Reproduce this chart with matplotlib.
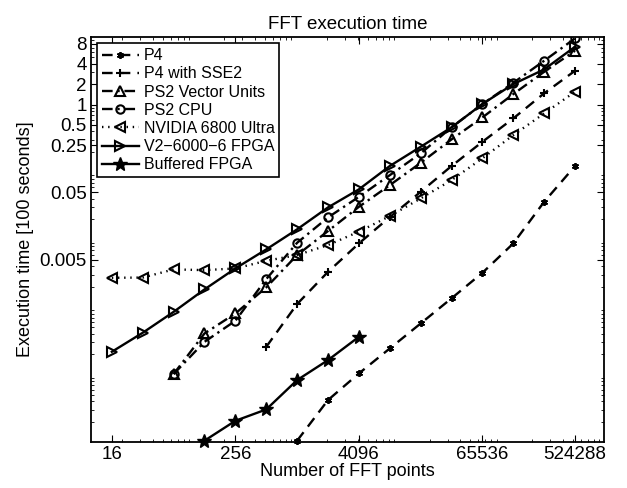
import numpy as np
import matplotlib
matplotlib.use("Agg")
import matplotlib.pyplot as plt
from matplotlib.ticker import FixedLocator, FixedFormatter, LogLocator, NullFormatter

plt.rcParams['font.family'] = ['Liberation Sans', 'DejaVu Sans']

# FFT sizes (powers of two)
p4_n = [2**k for k in range(10, 20)]
p4_t = [1.05e-5, 4.2e-5, 1.04e-4, 2.44e-4, 5.72e-4, 1.35e-3, 3.22e-3, 8.77e-3, 0.0363, 0.123]

sse2_n = [2**k for k in range(9, 20)]
sse2_t = [2.58e-4, 1.11e-3, 3.33e-3, 8.77e-3, 0.0215, 0.051, 0.123, 0.281, 0.624, 1.47, 3.17]

ps2vu_n = [2**k for k in range(6, 20)]
ps2vu_t = [1.02e-4, 4.07e-4, 8.05e-4, 1.96e-3, 5.9e-3, 0.0134, 0.0306, 0.064, 0.137,
           0.305, 0.645, 1.43, 3.06, 6.27]

ps2cpu_n = [2**k for k in range(6, 20)]
ps2cpu_t = [1.02e-4, 3.06e-4, 6.27e-4, 2.6e-3, 8.97e-3, 0.0213, 0.043, 0.090, 0.189,
            0.46, 1.02, 2.1, 4.46, 9.56]

nv_n = [2**k for k in range(4, 20)]
nv_t = [2.72e-3, 2.74e-3, 3.62e-3, 3.53e-3, 3.74e-3, 4.85e-3, 5.9e-3, 8.3e-3, 0.0131,
        0.0223, 0.0407, 0.076, 0.160, 0.353, 0.74, 1.55]

v2_n = [2**k for k in range(4, 20)]
v2_t = [2.18e-4, 4.17e-4, 8.5e-4, 1.83e-3, 3.74e-3, 7.16e-3, 0.0142, 0.030, 0.0555,
        0.123, 0.237, 0.46, 1.02, 2.01, 3.32, 7.2]

buf_n = [2**k for k in range(7, 13)]
buf_t = [1.05e-5, 2.07e-5, 3.05e-5, 8.3e-5, 1.64e-4, 3.63e-4]

xticks = [16, 256, 4096, 65536, 524288]
yticks = [0.005, 0.05, 0.25, 0.5, 1, 2, 4, 8]
ytick_labels = ['0.005', '0.05', '0.25', '0.5', '1', '2', '4', '8']

fig = plt.figure(figsize=(6.27, 4.88), dpi=100)
ax = fig.add_axes([0.145, 0.094, 0.818, 0.830])

lw = 1.7
dash = (4.5, 3.0)
dashdot = (4.5, 2.0, 1.0, 2.0)
dot = (0.6, 2.0)
asterisk = (6, 2, 0)
ax.plot(p4_n, p4_t, dashes=dash, color='k', lw=lw, marker=asterisk, ms=5,
        mew=1.3, label='P4', clip_on=False)
ax.plot(sse2_n, sse2_t, dashes=dash, color='k', lw=lw, marker='+', ms=6,
        mew=1.5, label='P4 with SSE2')
ax.plot(ps2vu_n, ps2vu_t, dashes=dashdot, color='k', lw=lw, marker='^', ms=7,
        mfc='none', mew=1.5, label='PS2 Vector Units')
ax.plot(ps2cpu_n, ps2cpu_t, dashes=dashdot, color='k', lw=lw, marker='o', ms=6,
        mfc='none', mew=1.5, label='PS2 CPU')
ax.plot(nv_n, nv_t, dashes=dot, color='k', lw=lw, marker='<', ms=7,
        mfc='none', mew=1.5, label='NVIDIA 6800 Ultra')
ax.plot(v2_n, v2_t, linestyle='-', color='k', lw=lw, marker='>', ms=7,
        mfc='none', mew=1.5, label='V2\u22126000\u22126 FPGA')
ax.plot(buf_n, buf_t, linestyle='-', color='k', lw=lw, marker='*', ms=10,
        label='Buffered FPGA', clip_on=False)

ax.set_xscale('log')
ax.set_yscale('log')
ax.set_xlim(10, 1e6)
ax.set_ylim(1e-5, 10)

ax.xaxis.set_major_locator(FixedLocator(xticks))
ax.xaxis.set_major_formatter(FixedFormatter([str(v) for v in xticks]))
ax.xaxis.set_minor_locator(LogLocator(base=10, subs=np.arange(2, 10)))
ax.xaxis.set_minor_formatter(NullFormatter())
ax.yaxis.set_major_locator(FixedLocator(yticks))
ax.yaxis.set_major_formatter(FixedFormatter(ytick_labels))
ax.yaxis.set_minor_locator(LogLocator(base=10, subs=np.arange(2, 10)))
ax.yaxis.set_minor_formatter(NullFormatter())

ax.tick_params(which='both', direction='in', top=True, right=True, labelsize=13.5)
ax.tick_params(which='major', length=5, width=0.8, pad=3)
ax.tick_params(which='minor', length=2.5, width=0.6)
for s in ax.spines.values():
    s.set_linewidth(1.3)

ax.set_title('FFT execution time', fontsize=13.5)
ax.set_xlabel('Number of FFT points', fontsize=13, labelpad=0)
ax.set_ylabel('Execution time [100 seconds]', fontsize=13, labelpad=4)

leg = ax.legend(loc='upper left', fontsize=11.5, frameon=True, fancybox=False,
                edgecolor='k', framealpha=1, handlelength=2.3, borderpad=0.3,
                labelspacing=0.2, handletextpad=0.3, borderaxespad=0.4)
leg.get_frame().set_linewidth(1.2)

fig.savefig('out.png', dpi=100)
